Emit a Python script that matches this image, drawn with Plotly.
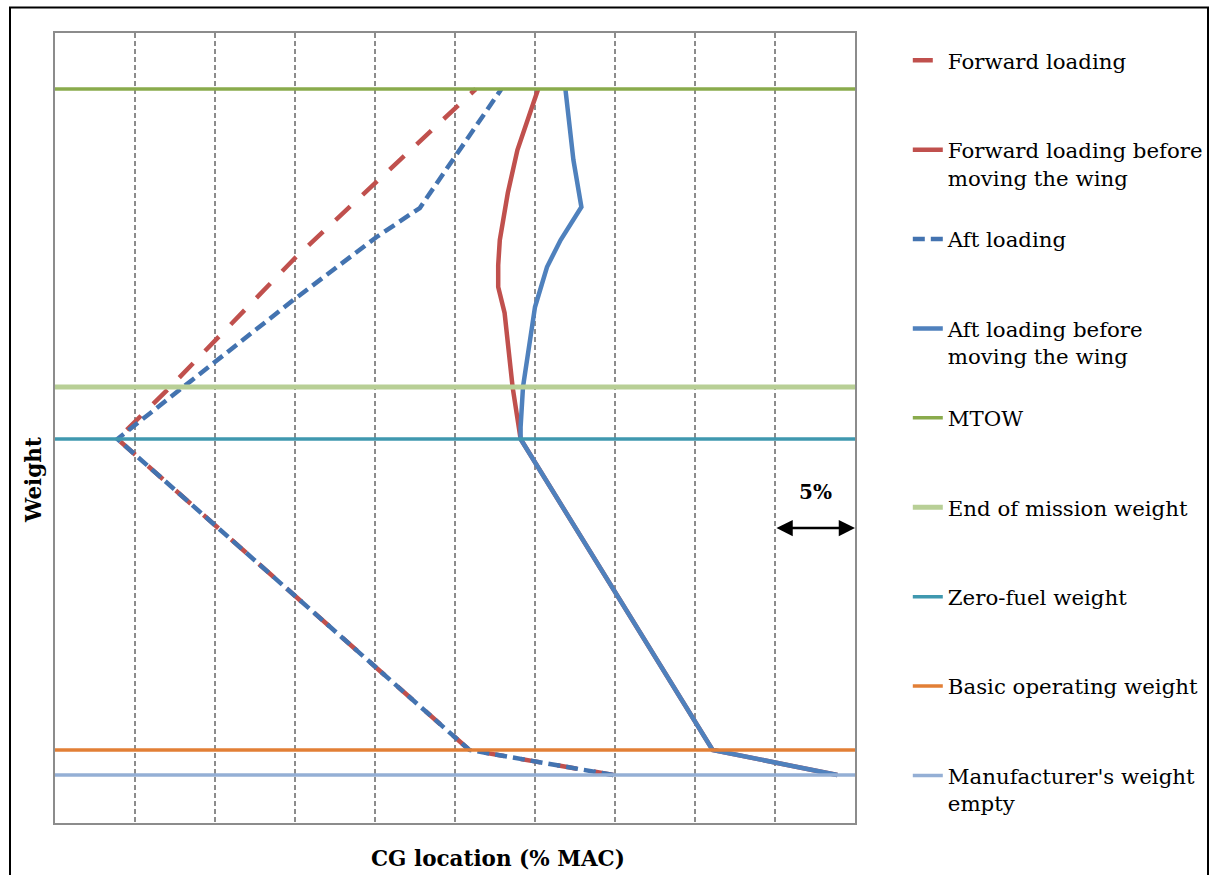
import plotly.graph_objects as go

# ---------------- data ----------------
# CG location in % MAC (axis unlabeled; 0..50 with grid every 5 %)
# weight in arbitrary units (axis unlabeled)
fwd_cg = [34.9, 25.9, 3.9, 7.2, 15.0, 26.3]
fwd_w = [48, 73, 384, 436, 565, 734]

fwd_before_cg = [48.9, 41.1, 29.1, 28.6, 28.1, 27.7, 27.7, 27.8, 28.3, 28.9, 29.9, 30.2]
fwd_before_w = [48, 73, 384, 436, 510, 536, 558, 583, 630, 673, 720, 734]

aft_cg = [34.9, 25.9, 3.9, 8.0, 14.9, 20.1, 22.8, 27.9]
aft_w = [48, 73, 384, 436, 523, 586, 615, 734]

aft_before_cg = [48.9, 41.1, 29.1, 29.1, 29.25, 29.6, 30.0, 30.75, 31.6, 32.9, 32.4, 31.9]
aft_before_w = [48, 73, 384, 396, 436, 476, 516, 556, 583, 616, 663, 734]

ref_names = ["MTOW", "End of mission weight", "Zero-fuel weight",
             "Basic operating weight", "Manufacturer's weight<br>empty"]
ref_weights = [734, 436, 384, 73, 48]
cg_range = [0, 50]
w_range = [0, 790]

# ---------------- styles ----------------
FONT = "DejaVu Serif"
ref_colors = ["#8AAB4C", "#B8CF96", "#3F98AF", "#E27F36", "#94AFD5"]
ref_widths = [3.5, 5, 3.5, 3.5, 3.5]
PAD = "<br>\u00a0"   # keeps every legend entry two lines tall (uniform spacing)

fig = go.Figure()

series = [
    ("Forward loading" + PAD, fwd_cg, fwd_w, "#C0504D", "20px,17px", 1),
    ("Forward loading before<br>moving the wing", fwd_before_cg, fwd_before_w, "#C0504D", "solid", 2),
    ("Aft loading" + PAD, aft_cg, aft_w, "#4373B0", "12px,6px", 3),
    ("Aft loading before<br>moving the wing", aft_before_cg, aft_before_w, "#4F81BD", "solid", 4),
]
for i, (name, xs, ys, col, dash, rank) in enumerate(series):
    fig.add_trace(go.Scatter(
        x=xs, y=ys, mode="lines", name=name,
        line=dict(color=col, width=4.5, dash=dash),
        legendgroup=f"g{rank}", legendrank=rank, hoverinfo="skip"))

for i, (name, w) in enumerate(zip(ref_names, ref_weights)):
    label = name if "<br>" in name else name + PAD
    fig.add_trace(go.Scatter(
        x=cg_range, y=[w, w], mode="lines", name=label,
        line=dict(color=ref_colors[i], width=ref_widths[i]),
        legendgroup=f"r{i}", legendrank=5 + i, hoverinfo="skip"))

# 5 % arrow
fig.add_annotation(x=50, y=295, ax=45, ay=295, xref="x", yref="y", axref="x", ayref="y",
                   text="", showarrow=True, arrowside="end+start", arrowhead=2,
                   arrowsize=1.3, arrowwidth=2.5, arrowcolor="black", standoff=0, startstandoff=0)
fig.add_annotation(x=47.5, y=331, xref="x", yref="y", text="<b>5%</b>", showarrow=False,
                   font=dict(family=FONT, size=20, color="black"))

# axis titles
fig.add_annotation(x=(498 - 55) / 800, y=(823 - 858) / 790, xref="paper", yref="paper",
                   text="<b>CG location (% MAC)</b>", showarrow=False, yanchor="middle",
                   font=dict(family=FONT, size=21.5, color="black"))
fig.add_annotation(x=(33 - 55) / 800, y=(823 - 480) / 790, xref="paper", yref="paper",
                   text="<b>Weight</b>", textangle=-90, showarrow=False, xanchor="center",
                   font=dict(family=FONT, size=21.5, color="black"))

# outer chart frame
fig.add_shape(type="rect", xref="paper", yref="paper",
              x0=(10 - 55) / 800, x1=(1208 - 55) / 800,
              y0=(823 - 900) / 790, y1=(823 - 7.5) / 790,
              line=dict(color="black", width=2), layer="below")

fig.update_xaxes(range=cg_range, showgrid=True, gridcolor="#8C8C8C", gridwidth=1.5,
                 griddash="5px,3px", dtick=5, tick0=0, showticklabels=False, ticks="",
                 showline=True, linecolor="#8C8C8C", linewidth=1.5, mirror=True, zeroline=False)
fig.update_yaxes(range=w_range, showgrid=False, showticklabels=False, ticks="",
                 showline=True, linecolor="#8C8C8C", linewidth=1.5, mirror=True, zeroline=False)

fig.update_layout(
    width=1212, height=875,
    margin=dict(l=55, r=357, t=33, b=52, autoexpand=False),
    paper_bgcolor="white", plot_bgcolor="white",
    font=dict(family=FONT, color="black"),
    showlegend=True,
    legend=dict(x=1.066, y=(823 - 40) / 790, xanchor="left", yanchor="top",
                xref="paper", yref="paper",
                font=dict(family=FONT, size=21.3, color="black"),
                bgcolor="rgba(0,0,0,0)", tracegroupgap=31, valign="top",
                traceorder="grouped", itemwidth=30, maxheight=900),
)

fig.write_html("out.html")
